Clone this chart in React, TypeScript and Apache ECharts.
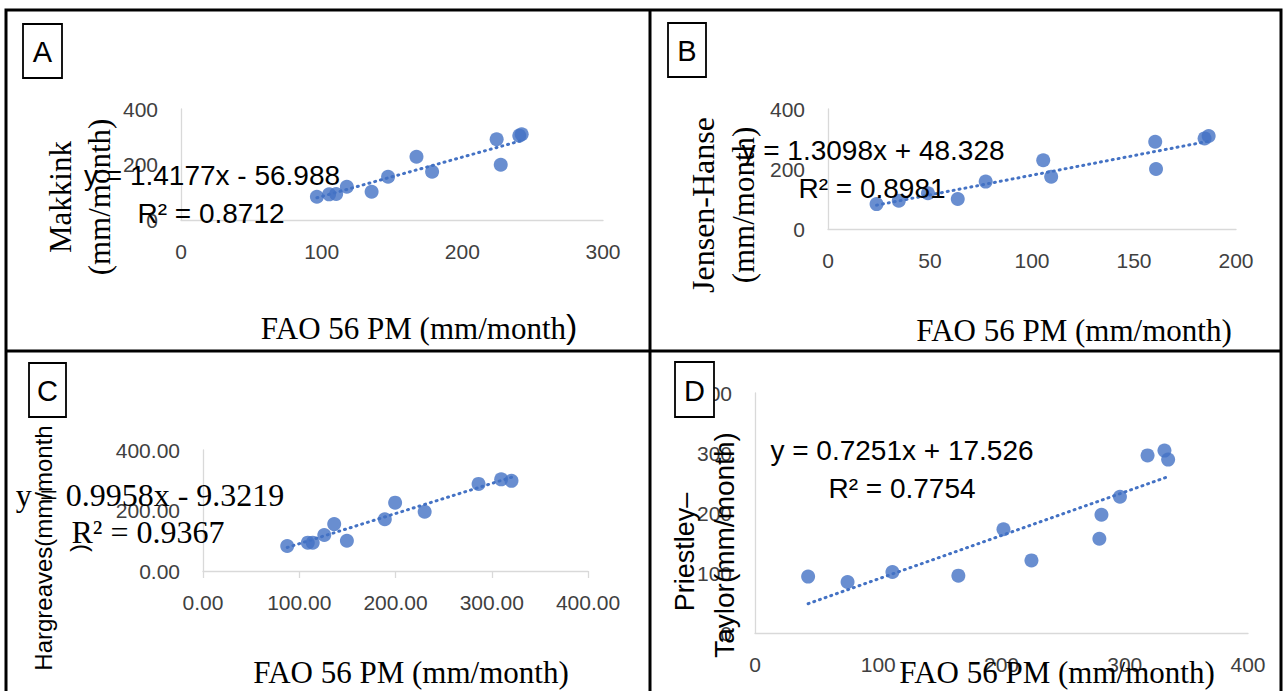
import React, { useEffect, useRef } from "react";
import * as echarts from "echarts";

// Panel A: Makkink vs FAO 56 PM
const aX = [96.6, 105.3, 110.3, 117.9, 135.5, 147.2, 167.4, 178.5, 224.4, 227.3, 240.5, 242.2];
const aY = [84, 92.5, 93.7, 120, 102, 156, 228, 174, 291, 199, 304, 309];
const aFit = { slope: 1.4177, intercept: -56.988 };
const aXTicks = [0, 300, 100];
const aYTicks = [0, 400, 200];

// Panel B: Jensen-Hanse vs FAO 56 PM
const bX = [23.8, 34.7, 49.0, 63.6, 77.3, 105.5, 109.4, 160.4, 160.8, 184.6, 186.6];
const bY = [83, 94, 119, 100, 158, 229, 174, 291, 200, 302, 310];
const bFit = { slope: 1.3098, intercept: 48.328 };
const bXTicks = [0, 200, 50];
const bYTicks = [0, 400, 200];

// Panel C: Hargreaves vs FAO 56 PM
const cX = [87.5, 108.9, 114, 126, 136.3, 149.5, 188.9, 199.6, 230.3, 286.3, 309.8, 320.5];
const cY = [82.6, 93.6, 93.6, 119, 155, 100, 171, 226, 196, 288, 303, 298];
const cFit = { slope: 0.9958, intercept: -9.3219 };
const cXTicks = [0, 400, 100];
const cYTicks = [0, 400, 200];

// Panel D: Priestley–Taylor vs FAO 56 PM
const dX = [43.1, 75.1, 111.5, 165, 201.6, 224.3, 279.4, 281.1, 296.1, 318.5, 332.2, 335.2];
const dY = [94, 85, 101.7, 95.6, 173, 121, 157, 197, 227, 296, 304, 289];
const dFit = { slope: 0.7251, intercept: 17.526 };
const dXTicks = [0, 400, 100];
const dYTicks = [0, 400, 100];

const eqA = ["y = 1.4177x - 56.988", "R² = 0.8712"];
const eqB = ["y = 1.3098x + 48.328", "R² = 0.8981"];
const eqC = ["y = 0.9958x - 9.3219", "R² = 0.9367"];
const eqD = ["y = 0.7251x + 17.526", "R² = 0.7754"];

const BLUE = "#4472C4";
const AXIS = "#d9d9d9";
const LABEL = "#404040";
const SANS = "'Liberation Sans', Arial, sans-serif";
const SERIF = "'Liberation Serif', 'Times New Roman', serif";

function trend(xs: number[], fit: { slope: number; intercept: number }) {
  const lo = Math.min(...xs);
  const hi = Math.max(...xs);
  return [
    [lo, fit.slope * lo + fit.intercept],
    [hi, fit.slope * hi + fit.intercept],
  ];
}

function xAxis(idx: number, t: number[], decimals: number, ticks: boolean) {
  return {
    type: "value",
    gridIndex: idx,
    min: t[0],
    max: t[1],
    interval: t[2],
    splitLine: { show: false },
    axisLine: { show: true, lineStyle: { color: AXIS, width: 1.3 } },
    axisTick: { show: ticks, length: 7, lineStyle: { color: AXIS, width: 1.3 } },
    axisLabel: {
      margin: 21,
      fontSize: 21,
      fontFamily: SANS,
      color: LABEL,
      formatter: (v: number) => v.toFixed(decimals),
    },
  };
}

function yAxis(idx: number, t: number[], decimals: number) {
  return {
    type: "value",
    gridIndex: idx,
    min: t[0],
    max: t[1],
    interval: t[2],
    splitLine: { show: false },
    axisLine: { show: true, lineStyle: { color: AXIS, width: 1.3 } },
    axisTick: { show: false },
    axisLabel: {
      margin: 23,
      fontSize: 21,
      fontFamily: SANS,
      color: LABEL,
      formatter: (v: number) => v.toFixed(decimals),
    },
  };
}

function pts(xs: number[], ys: number[]) {
  return xs.map((x, i) => [x, ys[i]]);
}

function txt(text: string, x: number, y: number, font: string, opts: any = {}) {
  return {
    type: "text",
    z: 100,
    x,
    y,
    rotation: opts.rotation || 0,
    style: {
      text,
      x: 0,
      y: 0,
      font,
      fill: opts.fill || "#000",
      textAlign: opts.align || "center",
      textVerticalAlign: "middle",
    },
  };
}

function box(label: string, x: number, y: number, w: number, h: number) {
  return [
    {
      type: "rect",
      z: 110,
      shape: { x, y, width: w, height: h },
      style: { fill: "#fff", stroke: "#000", lineWidth: 1.8 },
    },
    {
      type: "text",
      z: 111,
      x: x + w / 2,
      y: y + h / 2 + 1,
      style: {
        text: label,
        x: 0,
        y: 0,
        font: `29px ${SANS}`,
        fill: "#000",
        textAlign: "center",
        textVerticalAlign: "middle",
      },
    },
  ];
}

export default function App() {
  const ref = useRef<HTMLDivElement>(null);
  useEffect(() => {
    if (!ref.current) return;
    const chart = echarts.init(ref.current, null, { renderer: "svg" });
    const series: any[] = [];
    const sets = [
      [aX, aY, aFit],
      [bX, bY, bFit],
      [cX, cY, cFit],
      [dX, dY, dFit],
    ] as any[];
    sets.forEach(([xs, ys, fit], i) => {
      series.push({
        type: "line",
        xAxisIndex: i,
        yAxisIndex: i,
        data: trend(xs, fit),
        symbol: "none",
        silent: true,
        z: 1,
        lineStyle: { color: BLUE, width: 3, type: [1, 5], cap: "round" },
      });
      series.push({
        type: "scatter",
        xAxisIndex: i,
        yAxisIndex: i,
        data: pts(xs, ys),
        symbol: "circle",
        symbolSize: 14,
        itemStyle: { color: BLUE },
        z: 3,
      });
    });

    const rot = Math.PI / 2;
    const graphic: any[] = [
      // borders
      {
        type: "rect",
        z: 120,
        shape: { x: 6, y: 10, width: 1275, height: 700 },
        style: { fill: "none", stroke: "#000", lineWidth: 3 },
      },
      {
        type: "line",
        z: 120,
        shape: { x1: 650, y1: 10, x2: 650, y2: 700 },
        style: { stroke: "#000", lineWidth: 3 },
      },
      {
        type: "line",
        z: 120,
        shape: { x1: 6, y1: 351, x2: 1281, y2: 351 },
        style: { stroke: "#000", lineWidth: 3 },
      },
      ...box("A", 23, 24, 39, 54),
      ...box("B", 668, 23, 38, 54),
      ...box("C", 29, 363, 37, 54),
      ...box("D", 675, 362, 39, 55),
      // Panel A
      txt("Makkink", 60, 197, `31px ${SERIF}`, { rotation: rot }),
      txt("(mm/month)", 99, 197, `31px ${SERIF}`, { rotation: rot }),
      txt(eqA[0], 212, 175, `28px ${SANS}`),
      txt(eqA[1], 211, 213, `28px ${SANS}`),
      txt("FAO 56 PM (mm/month", 566, 328, `31px ${SERIF}`, { align: "right" }),
      txt(")", 566, 326, `34px ${SANS}`, { align: "left" }),
      // Panel B
      txt("Jensen-Hanse", 703, 205, `32px ${SERIF}`, { rotation: rot }),
      txt("(mm/month)", 743, 205, `31px ${SERIF}`, { rotation: rot }),
      txt(eqB[0], 873, 150, `28px ${SANS}`),
      txt(eqB[1], 872, 188, `28px ${SANS}`),
      txt("FAO 56 PM (mm/month)", 1074, 330, `31px ${SERIF}`),
      // Panel C
      txt("Hargreaves(mm/month", 43, 548, `24px ${SANS}`, { rotation: rot }),
      txt(")", 78, 548, `24px ${SANS}`, { rotation: rot }),
      txt(eqC[0], 150, 495, `32px ${SERIF}`),
      txt(eqC[1], 148, 532, `32px ${SERIF}`),
      txt("FAO 56 PM (mm/month)", 411, 672, `31px ${SERIF}`),
      // Panel D
      txt("Priestley–", 685, 552, `27px ${SANS}`, { rotation: rot }),
      txt("Taylor(mm/month)", 724, 545, `28px ${SANS}`, { rotation: rot }),
      txt(eqD[0], 902, 450, `28px ${SANS}`),
      txt(eqD[1], 902, 488, `28px ${SANS}`),
      txt("FAO 56 PM (mm/month)", 1057, 672, `31px ${SERIF}`),
    ];

    chart.setOption({
      animation: false,
      backgroundColor: "#fff",
      grid: [
        { left: 181, top: 109, width: 422, height: 111 },
        { left: 828, top: 109, width: 408, height: 120 },
        { left: 203, top: 450, width: 385, height: 121 },
        { left: 755, top: 393, width: 493, height: 240 },
      ],
      xAxis: [
        xAxis(0, aXTicks, 0, false),
        xAxis(1, bXTicks, 0, false),
        xAxis(2, cXTicks, 2, true),
        xAxis(3, dXTicks, 0, false),
      ],
      yAxis: [
        yAxis(0, aYTicks, 0),
        yAxis(1, bYTicks, 0),
        yAxis(2, cYTicks, 2),
        yAxis(3, dYTicks, 0),
      ],
      series,
      graphic,
    });
    return () => chart.dispose();
  }, []);
  return (
    <div
      ref={ref}
      style={{ position: "fixed", left: 0, top: 0, width: 1285, height: 691, background: "#fff" }}
    />
  );
}
